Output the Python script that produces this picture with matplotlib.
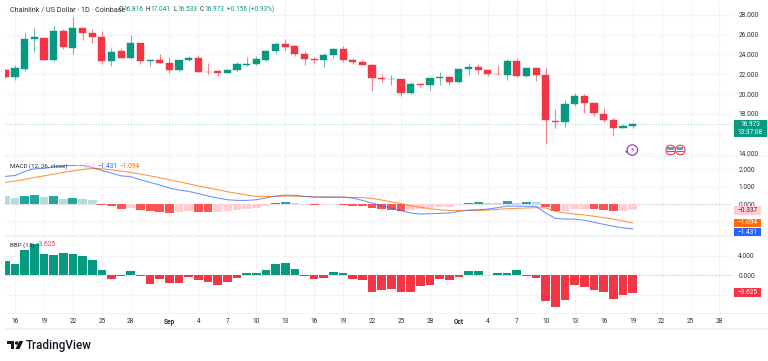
import numpy as np
import pandas as pd
import matplotlib
matplotlib.use("Agg")
import matplotlib.pyplot as plt
import matplotlib.dates as mdates
from matplotlib.patches import Circle, Rectangle, Polygon
from matplotlib.transforms import Bbox, TransformedBbox

plt.rcParams['font.family'] = ['Roboto', 'DejaVu Sans']

days = pd.date_range('2025-08-15', '2025-10-19')

opens = [22.46, 21.68, 22.55, 25.58, 25.71, 23.46, 26.42, 24.70, 26.68, 26.18, 25.78, 23.30, 24.37, 23.66, 25.14, 23.33, 23.46,
         23.16, 22.46, 23.46, 23.66, 22.26, 22.29, 22.12, 22.39, 22.96, 22.99, 23.46, 24.40, 25.07, 24.87, 24.07, 23.56, 23.40,
         23.93, 24.57, 23.46, 23.26, 22.89, 21.62, 21.48, 21.55, 20.07, 21.05, 20.88, 21.58, 21.72,
         21.22, 22.56, 22.76, 22.46, 22.05, 21.92, 23.36, 21.79, 22.59, 21.95, 17.32, 17.15, 18.97, 19.80, 19.07, 18.03, 17.42, 16.58, 16.816]
highs = [22.50, 22.96, 26.28, 26.68, 25.74, 26.89, 26.55, 27.76, 26.75, 26.58, 26.42, 24.67, 24.67, 25.98, 25.20, 23.46, 24.03,
         23.77, 23.46, 23.83, 23.93, 23.19, 22.46, 22.52, 23.23, 23.77, 23.87, 24.47, 25.28, 25.58, 25.00, 24.37, 23.70, 24.13,
         24.70, 24.87, 23.63, 23.46, 22.99, 21.99, 21.95, 21.55, 21.25, 21.05, 21.65, 22.22, 21.79,
         22.56, 23.13, 23.06, 22.46, 22.89, 23.53, 23.63, 22.62, 22.62, 22.72, 18.53, 19.44, 20.14, 20.04, 19.20, 18.60, 17.62, 16.95, 17.041]
lows = [21.60, 21.38, 22.36, 24.27, 23.40, 23.33, 24.57, 24.07, 25.48, 25.20, 23.06, 22.86, 23.63, 23.53, 23.06, 22.79, 23.10,
        22.09, 22.36, 23.33, 22.20, 21.99, 21.85, 22.09, 22.19, 22.79, 22.89, 23.30, 24.13, 24.40, 23.80, 22.96, 23.09, 22.76,
        23.63, 23.26, 23.09, 22.89, 20.28, 21.18, 20.95, 19.84, 19.97, 20.71, 20.44, 20.88, 20.95,
        21.08, 21.95, 22.05, 21.79, 21.92, 21.45, 21.72, 21.68, 21.32, 15.00, 16.62, 16.72, 18.77, 18.06, 17.76, 17.15, 15.74, 16.55, 16.533]
closes = [21.68, 22.62, 25.58, 25.74, 23.46, 26.42, 24.74, 26.68, 26.21, 25.74, 23.33, 24.30, 23.66, 25.14, 23.36, 23.46, 23.13,
          22.46, 23.46, 23.66, 22.22, 22.19, 22.15, 22.42, 23.03, 23.06, 23.53, 24.40, 25.07, 24.80, 24.03, 23.53, 23.40, 23.97,
          24.57, 23.40, 23.26, 22.93, 21.62, 21.48, 21.55, 20.11, 21.05, 20.88, 21.65, 21.75, 21.25,
          22.56, 22.76, 22.46, 21.99, 21.99, 23.36, 21.79, 22.59, 21.95, 17.36, 17.15, 19.00, 19.80, 19.07, 18.06, 17.39, 16.58, 16.82, 16.973]

macd_line = [1.60, 1.65, 1.88, 2.04, 2.06, 2.15, 2.21, 2.23, 2.23, 2.12, 1.94, 1.79, 1.63, 1.58, 1.40, 1.25, 1.10,
             0.92, 0.81, 0.73, 0.60, 0.46, 0.35, 0.25, 0.21, 0.21, 0.25, 0.35, 0.46, 0.52, 0.50, 0.44, 0.40, 0.40,
             0.40, 0.40, 0.35, 0.21, 0.06, -0.10, -0.23, -0.38, -0.52, -0.58, -0.56, -0.54, -0.52,
             -0.42, -0.35, -0.33, -0.29, -0.21, -0.12, -0.12, -0.13, -0.13, -0.52, -0.83, -0.87, -0.87, -0.94, -1.06, -1.17, -1.29, -1.38, -1.431]
signal_line = [1.25, 1.33, 1.42, 1.54, 1.63, 1.73, 1.83, 1.92, 2.00, 2.06, 2.04, 1.98, 1.90, 1.83, 1.73, 1.63, 1.52,
               1.40, 1.29, 1.17, 1.04, 0.94, 0.83, 0.71, 0.62, 0.52, 0.44, 0.44, 0.44, 0.46, 0.46, 0.44, 0.42, 0.40,
               0.40, 0.40, 0.38, 0.37, 0.33, 0.23, 0.13, 0.02, -0.10, -0.19, -0.27, -0.33, -0.37,
               -0.37, -0.37, -0.37, -0.35, -0.31, -0.27, -0.25, -0.23, -0.21, -0.23, -0.42, -0.52, -0.58, -0.63, -0.71, -0.79, -0.87, -0.98, -1.094]
macd_hist = [0.44, 0.35, 0.46, 0.54, 0.38, 0.44, 0.31, 0.37, 0.31, 0.23, -0.06, -0.13, -0.26, -0.25, -0.35, -0.40, -0.46,
             -0.52, -0.44, -0.43, -0.46, -0.47, -0.46, -0.40, -0.35, -0.29, -0.21, -0.12, 0.08, 0.09, 0.08, -0.02, -0.06, -0.04,
             -0.02, -0.06, -0.10, -0.13, -0.25, -0.31, -0.35, -0.40, -0.35, -0.27, -0.21, -0.17, -0.15,
             -0.02, 0.08, 0.09, 0.08, 0.07, 0.19, 0.08, 0.12, 0.10, -0.19, -0.42, -0.41, -0.31, -0.29, -0.31, -0.35, -0.40, -0.38, -0.337]
bbp = [2.88, 2.26, 5.14, 6.37, 4.32, 4.11, 4.52, 4.38, 4.04, 3.08, 1.03, -0.82, -0.14, 0.89, -0.14, -1.85, -0.68,
       -1.58, -1.51, -0.34, -0.89, -1.37, -1.99, -1.37, -0.62, 0.55, 0.55, 1.16, 2.26, 2.60, 1.23, -0.14, -0.68, -0.55,
       0.62, 0.41, -0.75, -0.89, -3.36, -3.01, -2.81, -3.56, -3.42, -2.26, -1.92, -0.75, -0.96,
       -0.27, 0.96, 0.96, 0.14, 0.55, 0.55, 1.10, -0.20, -0.55, -5.27, -6.64, -5.20, -2.05, -2.53, -3.01, -3.56, -5.00, -4.11, -3.625]

tick_dates = ['2025-08-16', '2025-08-19', '2025-08-22', '2025-08-25', '2025-08-28', '2025-09-01', '2025-09-04', '2025-09-07',
              '2025-09-10', '2025-09-13', '2025-09-16', '2025-09-19', '2025-09-22', '2025-09-25', '2025-09-28', '2025-10-01',
              '2025-10-04', '2025-10-07', '2025-10-10', '2025-10-13', '2025-10-16', '2025-10-19', '2025-10-22', '2025-10-25',
              '2025-10-28']
tick_labels = ['16', '19', '22', '25', '28', 'Sep', '4', '7', '10', '13', '16', '19', '22', '25', '28', 'Oct',
               '4', '7', '10', '13', '16', '19', '22', '25', '28']
price_ticks = [14, 16, 18, 20, 22, 24, 26, 28]
macd_ticks = [-1, 0, 1, 2]
bbp_ticks = [-4, 0, 4]

GREEN = '#089981'
RED = '#F23645'
GRID = '#f3f5f9'
BAND = '#f0f3fa'
TXT = '#2a2e39'
FS = 4.7
W, H = 768, 361


def pane(top, bottom, left=5, right=732):
    return fig.add_axes([left/W, 1-bottom/H, (right-left)/W, (bottom-top)/H])


fig = plt.figure(figsize=(W/100, H/100), dpi=100)
ax1 = pane(3, 156)
ax2 = pane(157, 235)
ax3 = pane(237, 313.5)

x = mdates.date2num(days)
xt = mdates.date2num(pd.to_datetime(tick_dates))
x0 = xt[0]
for ax in (ax1, ax2, ax3):
    ax.set_xlim(x0-1.036, x0+74.3)
    ax.set_xticks(xt)
    ax.grid(True, color=GRID, lw=0.9)
    ax.set_axisbelow(True)
    ax.yaxis.tick_right()
    ax.tick_params(length=0, labelsize=FS, labelcolor=TXT, pad=4.5, labelbottom=False)
    for s in ax.spines.values():
        s.set_visible(False)

# candles
o, h, l, c = map(np.array, (opens, highs, lows, closes))
col = [GREEN if b >= a else RED for a, b in zip(o, c)]
ax1.vlines(x, l, h, colors=col, lw=0.8, alpha=0.6, zorder=3)
ax1.bar(x, np.abs(c-o), bottom=np.minimum(o, c), width=0.74, color=col, edgecolor=col, lw=0.3, zorder=4)
ax1.axhline(closes[-1], color=GREEN, lw=0.6, ls=(0, (1.5, 2)), alpha=0.4, zorder=2)
ax1.set_ylim(13.75, 29.2)
ax1.set_yticks(price_ticks)
ax1.set_yticklabels(['%.3f' % t if t != 16 else '' for t in price_ticks])

# macd pane
hist_col = []
prev = 0.6
for v in macd_hist:
    if v >= 0:
        hist_col.append('#26A69A' if v > prev else '#B2DFDB')
    else:
        hist_col.append('#FF5252' if v < prev else '#FFCDD2')
    prev = v
ax2.axhline(0, color='#c4c7cf', lw=0.6, ls=(0, (2, 2)), zorder=1)
ax2.bar(x, macd_hist, width=0.92, color=hist_col, zorder=3)
ax2.plot(x, signal_line, color='#FF6D00', lw=0.75, alpha=0.75, zorder=4)
ax2.plot(x, macd_line, color='#2962FF', lw=0.75, alpha=0.7, zorder=5)
ax2.set_ylim(-1.79, 2.72)
ax2.set_yticks(macd_ticks)
ax2.set_yticklabels(['' if t == -1 else '%.3f' % t for t in macd_ticks])

# bbp pane
ax3.axhline(0, color='#c4c7cf', lw=0.6, ls=(0, (2, 2)), zorder=1)
ax3.bar(x, bbp, width=0.9, color=[GREEN if v >= 0 else RED for v in bbp], zorder=3)
ax3.set_ylim(-7.9, 7.9)
ax3.set_yticks(bbp_ticks)
ax3.set_yticklabels(['' if t == -4 else '%.3f' % t for t in bbp_ticks])

# overlay in pixel coordinates for legends, bands, value tags and logo
top = fig.add_axes([0, 0, 1, 1], facecolor='none')
top.set_xlim(0, W)
top.set_ylim(H, 0)
top.axis('off')


def label(px, py, s, color=TXT, size=FS, ha='left', **kw):
    return top.text(px, py, s, color=color, fontsize=size, ha=ha, va='center', **kw)


for ya, yb, xa in [(155.5, 157, 5), (235, 237, 5), (313, 314, 5), (328, 330, 5)]:
    top.add_patch(Rectangle((xa, ya), W-xa, yb-ya, color=BAND, lw=0, zorder=1))

for d, s in zip(xt, tick_labels):
    px = 15 + (d-x0)*9.65
    label(px, 321.5, s, ha='center', fontweight='bold' if s in ('Sep', 'Oct') else 'normal')

# header
label(10, 9.6, 'Chainlink / US Dollar · 1D · Coinbase', size=5.2)
for px, k, v in [(119, 'O', '16.816'), (146, 'H', '17.041'), (173, 'L', '16.533'), (199.5, 'C', '16.973')]:
    label(px, 9.6, k)
    label(px+4.9, 9.6, v, color=GREEN)
label(227, 9.6, '+0.156 (+0.93%)', color=GREEN)

# pane legends
label(10, 166, 'MACD (12, 26, close)', size=4.5)
label(76, 166, '−0.337', color='#FFCDD2')
label(97, 166, '−1.431', color='#2962FF')
label(119, 166, '−1.094', color='#FF6D00')
label(10, 244.7, 'BBP (13)', size=4.5)
label(36, 244.7, '−3.625', color=RED)

# clipped scale labels at the pane edges of bbp
clip = TransformedBbox(Bbox([[730, 313.5], [768, 236.5]]), top.transData)
for py, s in [(238.5, '8.000'), (313.3, '−8.000')]:
    t = label(738 if s[0] != '−' else 736, py, s)
    t.set_clip_box(clip)
    t.set_clip_on(True)

# value tags on the right
tags = [(120, 137, GREEN, None), (206, 214.5, '#FFCDD2', '−0.337'), (219, 227, '#FF6D00', '−1.094'),
        (228, 236, '#2962FF', '−1.431'), (288, 297, RED, '−3.625')]
for ya, yb, fc, s in tags:
    top.add_patch(Rectangle((734, ya), 27 if s else 32.5, yb-ya, color=fc, lw=0, zorder=5))
    if s:
        label(747.5, (ya+yb)/2, s, color=TXT if fc == '#FFCDD2' else 'white', ha='center', zorder=6)
label(750, 124.6, '%.3f' % closes[-1], color='white', ha='center', zorder=6)
label(750, 132.5, '13:37:08', color='white', ha='center', zorder=6)

# event icons
top.add_patch(Circle((632.3, 150), 5.2, fc='white', ec='#9C27B0', lw=0.8, zorder=5))
top.text(632.3, 150, '\u26a1', color='#9C27B0', fontsize=5.5, ha='center', va='center', zorder=6, family='DejaVu Sans')
top.add_patch(Circle((626.7, 151.7), 1.3, fc='#7E57C2', lw=0, zorder=6))
for cx in (670.7, 680.3):
    top.add_patch(Circle((cx, 150), 4.8, fc='white', ec=RED, lw=0.8, zorder=5))
    top.add_patch(Rectangle((cx-3.6, 146.7), 6.4, 3, fc='#5C9CE6', lw=0, zorder=6))
    top.add_patch(Rectangle((cx-3.8, 151), 7.6, 0.9, fc=RED, lw=0, zorder=6))

# logo
top.add_patch(Polygon([(7, 341), (14.3, 341), (14.3, 349), (10.8, 349), (10.8, 344.4), (7, 344.4)], fc='#131722', lw=0))
top.add_patch(Circle((16.6, 343), 1.7, fc='#131722', lw=0))
top.add_patch(Polygon([(19.3, 341), (23.2, 341), (19.5, 349), (15.5, 349)], fc='#131722', lw=0))
label(26, 345, 'TradingView', color='#131722', size=8.4, fontweight='medium')

fig.savefig('out.png', dpi=100)
